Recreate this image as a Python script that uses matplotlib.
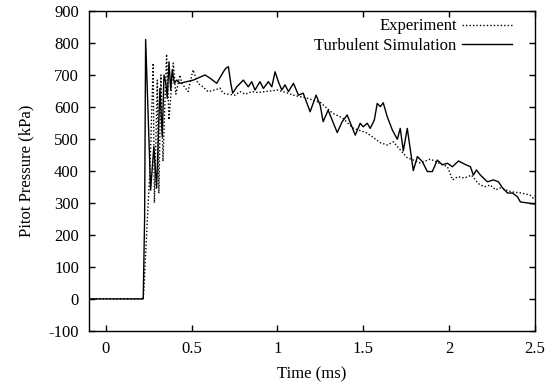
import numpy as np
import matplotlib
matplotlib.use("Agg")
import matplotlib.pyplot as plt

# experiment (dotted)
t_exp = [-0.1, 0.218, 0.222, 0.245, 0.257, 0.276, 0.283, 0.300, 0.309, 0.321,
         0.333, 0.354, 0.368, 0.393, 0.408, 0.432, 0.443, 0.479, 0.508, 0.536,
         0.566, 0.595, 0.636, 0.665, 0.683, 0.712, 0.753, 0.782, 0.811, 0.852,
         0.887, 0.957, 0.998, 1.05, 1.09, 1.17, 1.25, 1.32, 1.38, 1.44,
         1.52, 1.60, 1.64, 1.675, 1.715, 1.756, 1.791, 1.832, 1.890, 1.96,
         1.99, 2.02, 2.05, 2.09, 2.13, 2.16, 2.18, 2.21, 2.24, 2.27,
         2.30, 2.36, 2.42, 2.47, 2.49, 2.5]
p_exp = [0, 0, 30, 280, 400, 737, 300, 684, 330, 700,
         430, 765, 560, 737, 640, 700, 674, 648, 716, 674,
         663, 648, 653, 659, 643, 640, 637, 648, 640, 648,
         645, 650, 653, 645, 637, 628, 614, 581, 565, 534,
         519, 488, 481, 491, 466, 441, 434, 425, 437, 420,
         413, 372, 382, 378, 387, 367, 356, 351, 356, 341,
         347, 335, 331, 325, 315, 322]

# turbulent simulation (solid)
t_sim = [-0.1, 0.218, 0.226, 0.232, 0.261, 0.280, 0.296, 0.315, 0.329, 0.339,
         0.350, 0.358, 0.368, 0.378, 0.387, 0.399, 0.413, 0.432, 0.471, 0.510,
         0.548, 0.578, 0.607, 0.646, 0.685, 0.699, 0.714, 0.728, 0.739, 0.763,
         0.801, 0.830, 0.850, 0.869, 0.898, 0.918, 0.947, 0.967, 0.986, 1.005,
         1.025, 1.044, 1.064, 1.093, 1.122, 1.150, 1.190, 1.225, 1.249, 1.266,
         1.295, 1.348, 1.377, 1.406, 1.453, 1.482, 1.499, 1.523, 1.540, 1.564,
         1.581, 1.599, 1.616, 1.639, 1.669, 1.698, 1.715, 1.733, 1.756, 1.774,
         1.791, 1.815, 1.844, 1.873, 1.902, 1.931, 1.960, 1.990, 2.019, 2.054,
         2.095, 2.124, 2.141, 2.159, 2.182, 2.223, 2.258, 2.287, 2.311, 2.340,
         2.369, 2.398, 2.415, 2.456, 2.49, 2.5]
p_sim = [0, 0, 250, 811, 340, 476, 346, 658, 507, 700,
         674, 627, 741, 653, 716, 674, 684, 674, 679, 684,
         693, 700, 690, 674, 710, 721, 726, 674, 643, 663,
         684, 663, 679, 653, 679, 658, 679, 663, 710, 679,
         653, 669, 648, 674, 637, 643, 585, 637, 605, 554,
         590, 520, 554, 575, 512, 549, 538, 549, 533, 559,
         611, 601, 613, 570, 528, 499, 533, 463, 533, 466,
         401, 445, 429, 398, 398, 434, 419, 424, 413, 431,
         420, 413, 387, 403, 387, 366, 372, 366, 347, 331,
         331, 319, 303, 300, 297, 297]


def main():
    plt.rcParams['font.family'] = ['Liberation Serif', 'DejaVu Serif']
    plt.rcParams['axes.unicode_minus'] = False
    fig = plt.figure(figsize=(5.54, 3.87), dpi=100)
    ax = fig.add_axes([0.16, 0.145, 0.8057, 0.8266])

    ax.plot(t_exp, p_exp, color='black', lw=1.0, ls=(0, (1, 1.5)), label='Experiment')
    ax.plot(t_sim, p_sim, color='black', lw=1.0, label='Turbulent Simulation')

    ax.set_xlim(-0.1, 2.5)
    ax.set_ylim(-100, 900)
    ax.set_xticks(np.arange(0, 2.51, 0.5))
    ax.set_xticklabels(['0', '0.5', '1', '1.5', '2', '2.5'])
    ax.set_yticks(np.arange(-100, 901, 100))
    ax.tick_params(direction='in', top=True, right=True, length=4, width=1,
                   labelsize=12, pad=7)
    for s in ax.spines.values():
        s.set_linewidth(1.0)

    ax.set_xlabel('Time (ms)', fontsize=12, labelpad=7)
    ax.set_ylabel('Pitot Pressure (kPa)', fontsize=12, labelpad=10)

    ax.legend(loc='upper right', frameon=False, markerfirst=False, fontsize=12,
              handlelength=3.0, handletextpad=0.35, labelspacing=0.2,
              bbox_to_anchor=(0.972, 1.008), borderaxespad=0.2)

    fig.savefig('out.png', dpi=100)


if __name__ == "__main__":
    main()
